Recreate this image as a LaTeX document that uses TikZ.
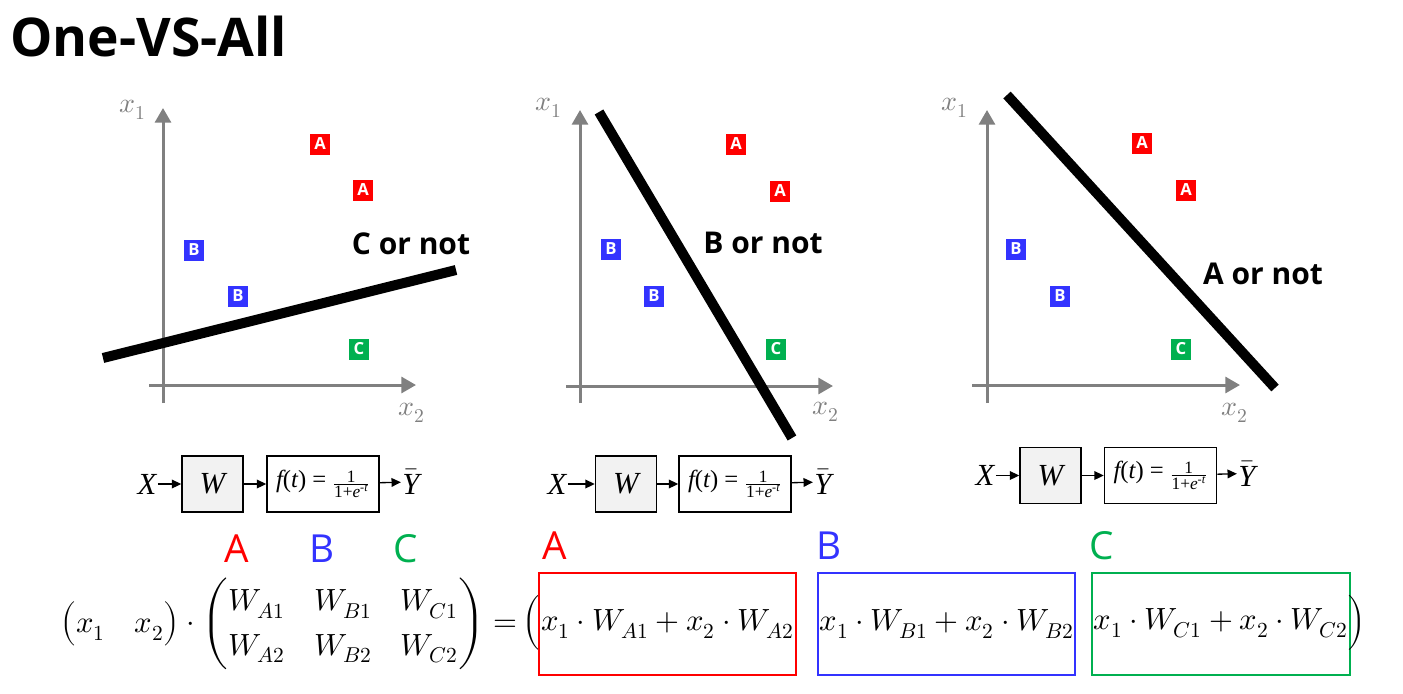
\documentclass[tikz,border=0pt]{standalone}
\usepackage{amsmath}
\usepackage{fontspec}
\usepackage{unicode-math}
\setmathfont{Latin Modern Math}
\setsansfont{Open Sans}
\newfontfamily\tnr{Liberation Serif}
\usetikzlibrary{arrows.meta}
\definecolor{cred}{HTML}{FF0000}
\definecolor{cblue}{HTML}{3333FF}
\definecolor{cgreen}{HTML}{00B050}
\definecolor{axgray}{HTML}{808080}
\definecolor{wfill}{HTML}{F2F2F2}
\newcommand{\mathsz}{\fontsize{23}{28}\selectfont}
\newcommand{\ffun}{{\tnr\fontsize{18.5}{20}\selectfont\itshape f\upshape(\itshape t\upshape) = }$\frac{\hbox{\tnr\fontsize{13}{14}\selectfont 1}}{\hbox{\tnr\fontsize{13}{14}\selectfont 1+\itshape e\textsuperscript{-t}}}$}
\newcommand{\ybar}{$\bar{\hbox{\tnr\itshape Y}}$}
\tikzset{
  axis/.style={draw=axgray, line width=2.25pt, -{Triangle[length=11pt,width=12pt]}},
  sepline/.style={line width=7.5pt},
  cls/.style={fill=#1, text=white, font=\sffamily\bfseries\fontsize{12.5}{12}\selectfont, minimum width=15pt, minimum height=15.75pt, inner sep=0pt},
  lab/.style={font=\sffamily\bfseries\fontsize{22.5}{24}\selectfont, inner sep=0pt},
  axlab/.style={text=axgray, font=\fontsize{21}{22}\selectfont, inner sep=0pt},
  blk/.style={draw, line width=1.2pt, minimum height=42pt, inner sep=0pt},
  barrow/.style={-{Triangle[length=7pt,width=6.5pt]}, line width=1pt},
  sym/.style={font=\tnr\itshape\fontsize{23}{24}\selectfont, inner sep=1pt},
  hdr/.style={font=\sffamily\fontsize{29}{30}\selectfont, text=#1, inner sep=0pt},
  ebox/.style={draw=#1, line width=1.5pt, minimum width=193pt, minimum height=76.5pt, inner sep=0pt, font=\mathsz},
}
\begin{document}
\begin{tikzpicture}[x=0.75pt,y=-0.75pt]
\useasboundingbox (0,0) rectangle (1403,693);
\node[anchor=west, font=\sffamily\bfseries\fontsize{40}{42}\selectfont, inner sep=0pt] (title) at (10,36) {One-VS-All};

% ---------- panel 1
\draw[axis] (163,403) -- (163,108);
\draw[axis] (149,385) -- (416,385);
\node[axlab] (p1x1) at (133,110) {$x_1$};
\node[axlab] (p1x2) at (412,413) {$x_2$};
\node[cls=cred] (p1a1) at (320,144) {A};
\node[cls=cred] (p1a2) at (363,190) {A};
\node[cls=cblue] (p1b1) at (194,250) {B};
\node[cls=cblue] (p1b2) at (238,296) {B};
\node[cls=cgreen] (p1c1) at (359,349) {C};
\draw[sepline] (103,358) -- (456,270);
\node[lab] (p1t) at (411,244) {C or not};
\node[sym] (p1X) at (147,484) {X};
\node[blk, fill=wfill, minimum width=45.75pt, font=\tnr\itshape\fontsize{23}{24}\selectfont] (p1W) at (212.5,484) {W};
\node[blk, minimum width=84pt] (p1f) at (323,484) {\ffun};
\node[sym] (p1Y) at (411,482) {\ybar};
\draw[barrow] (p1X) -- (p1W);
\draw[barrow] (p1W) -- (p1f);
\draw[barrow] (p1f) -- (p1Y);

% ---------- panel 2
\draw[axis] (580,403) -- (580,110);
\draw[axis] (566,386) -- (833,386);
\node[axlab] (p2x1) at (549,108) {$x_1$};
\node[axlab] (p2x2) at (826,412) {$x_2$};
\node[cls=cred] (p2a1) at (736,144) {A};
\node[cls=cred] (p2a2) at (780,191) {A};
\node[cls=cblue] (p2b1) at (611,249) {B};
\node[cls=cblue] (p2b2) at (654,296) {B};
\node[cls=cgreen] (p2c1) at (776,349) {C};
\draw[sepline] (599,112) -- (792,438);
\node[lab] (p2t) at (763,243) {B or not};
\node[sym] (p2X) at (557,484) {X};
\node[blk, fill=wfill, minimum width=45.75pt, font=\tnr\itshape\fontsize{23}{24}\selectfont] (p2W) at (626,484) {W};
\node[blk, minimum width=84pt] (p2f) at (735,484) {\ffun};
\node[sym] (p2Y) at (823,482) {\ybar};
\draw[barrow] (p2X) -- (p2W);
\draw[barrow] (p2W) -- (p2f);
\draw[barrow] (p2f) -- (p2Y);

% ---------- panel 3
\draw[axis] (987,403) -- (987,110);
\draw[axis] (972,385) -- (1240,385);
\node[axlab] (p3x1) at (955,108) {$x_1$};
\node[axlab] (p3x2) at (1235,413) {$x_2$};
\node[cls=cred] (p3a1) at (1142,143) {A};
\node[cls=cred] (p3a2) at (1186,190) {A};
\node[cls=cblue] (p3b1) at (1016,249) {B};
\node[cls=cblue] (p3b2) at (1060,296) {B};
\node[cls=cgreen] (p3c1) at (1181,349) {C};
\draw[sepline] (1007,95) -- (1275,388);
\node[lab] (p3t) at (1263,274) {A or not};
\node[sym] (p3X) at (985,475.5) {X};
\node[blk, fill=wfill, minimum width=45.75pt, font=\tnr\itshape\fontsize{23}{24}\selectfont] (p3W) at (1050.5,475.5) {W};
\node[blk, minimum width=84pt] (p3f) at (1160.5,475.5) {\ffun};
\node[sym] (p3Y) at (1247,473.5) {\ybar};
\draw[barrow] (p3X) -- (p3W);
\draw[barrow] (p3W) -- (p3f);
\draw[barrow] (p3f) -- (p3Y);

% ---------- equation
\node[hdr=cred] (hA) at (237,549) {A};
\node[hdr=cblue] (hB) at (322,549) {B};
\node[hdr=cgreen] (hC) at (406,549) {C};
\node[anchor=west, inner sep=0pt, font=\mathsz] (lhs) at (60,624) {\setlength\arraycolsep{11pt}\renewcommand\arraystretch{1.2}$\begin{pmatrix}x_1 & x_2\end{pmatrix}\cdot\begin{pmatrix}W_{A1} & W_{B1} & W_{C1}\\ W_{A2} & W_{B2} & W_{C2}\end{pmatrix}=$};
\node[inner sep=0pt, font=\mathsz] (lp) at (532,623) {$\Big($};
\node[hdr=cred] (rA) at (555,546) {A};
\node[hdr=cblue] (rB) at (829,546) {B};
\node[hdr=cgreen] (rC) at (1102,546) {C};
\node[ebox=cred] (bA) at (667.5,624) {$x_1\cdot W_{A1}+x_2\cdot W_{A2}$};
\node[ebox=cblue] (bB) at (946.5,624) {$x_1\cdot W_{B1}+x_2\cdot W_{B2}$};
\node[ebox=cgreen] (bC) at (1221,623.5) {$x_1\cdot W_{C1}+x_2\cdot W_{C2}$};
\node[inner sep=0pt, font=\mathsz] (rp) at (1357,623) {$\Big)$};
\end{tikzpicture}
\end{document}
